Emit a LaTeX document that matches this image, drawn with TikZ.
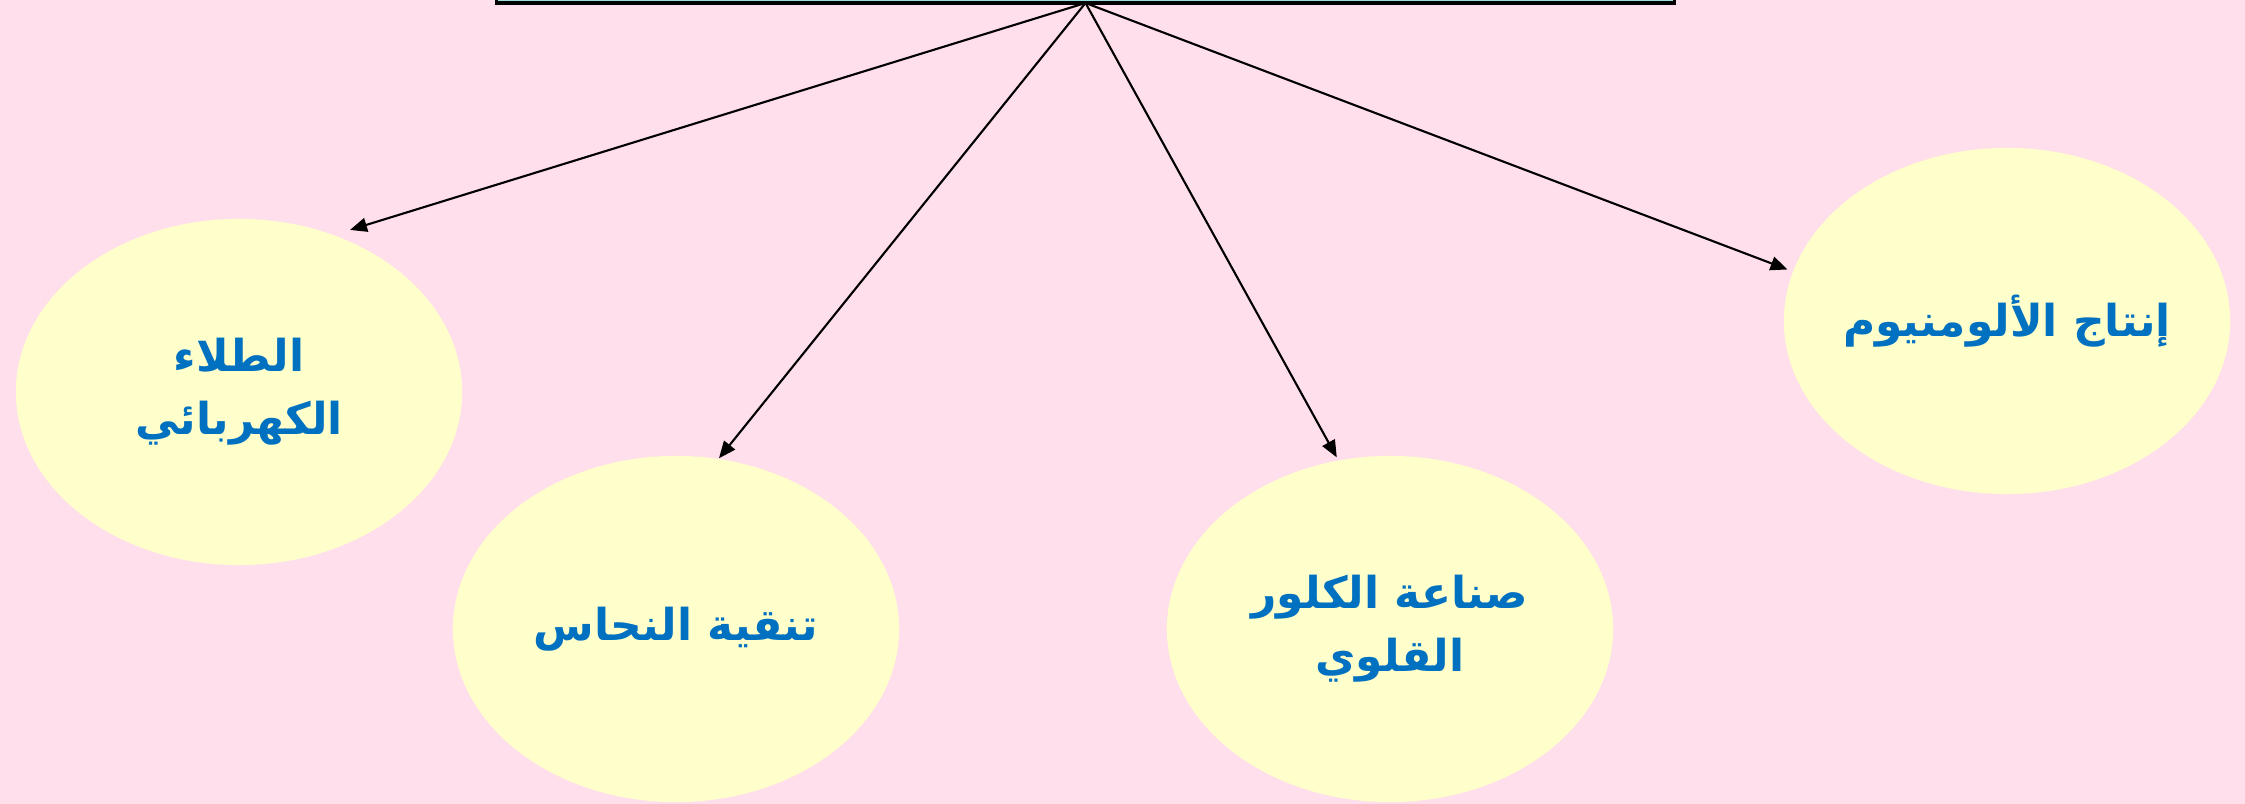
\documentclass[tikz,border=0pt]{standalone}
\usepackage{fontspec}
\usetikzlibrary{shapes.geometric,arrows.meta}
\newfontfamily\arabicfont[Script=Arabic]{DejaVu Sans}
\TeXXeTstate=1
\definecolor{bgpink}{RGB}{255,223,235}
\definecolor{ellfill}{RGB}{255,255,204}
\definecolor{txtblue}{RGB}{0,112,192}
\definecolor{boxfill}{RGB}{153,224,224}
\begin{document}
\begin{tikzpicture}[x=0.01cm,y=-0.01cm,
  oval/.style={ellipse, fill=ellfill, draw=none, minimum width=4.46cm, minimum height=3.46cm,
    inner xsep=-30pt, inner ysep=-10pt, outer sep=0pt, text=txtblue,
    font=\arabicfont\bfseries\fontsize{12.5}{18}\selectfont, align=center},
  conn/.style={draw=black, line width=0.6pt, -{Triangle[length=0.17cm,width=0.14cm]}},
  topbox/.style={draw=black, line width=1pt, fill=boxfill, minimum width=11.77cm,
    minimum height=0.6cm, inner sep=0pt, outer sep=0pt}]
\fill[bgpink] (0,0) rectangle (2245,804);
\useasboundingbox (0,0) rectangle (2245,804);
\clip (0,0) rectangle (2245,804);
\node[topbox, anchor=south] (top) at (1085.5,3) {};
\node[oval] (e1) at (239,392) {\beginR الطلاء\endR\\\beginR الكهربائي\endR};
\node[oval] (e2) at (676,629) {\beginR تنقية النحاس\endR};
\node[oval] (e3) at (1390,629) {\beginR صناعة الكلور\endR\\\beginR القلوي\endR};
\node[oval] (e4) at (2007,321) {\beginR إنتاج الألومنيوم\endR};
\draw[conn, shorten >=0.175cm] (top.south) -- (e1.59);
\draw[conn, shorten >=0.01cm] (top.south) -- (e2.76.7);
\draw[conn, shorten >=0.036cm] (top.south) -- (e3.107.9);
\draw[conn, shorten >=0.06cm] (top.south) -- (e4.167.4);
\end{tikzpicture}
\end{document}
